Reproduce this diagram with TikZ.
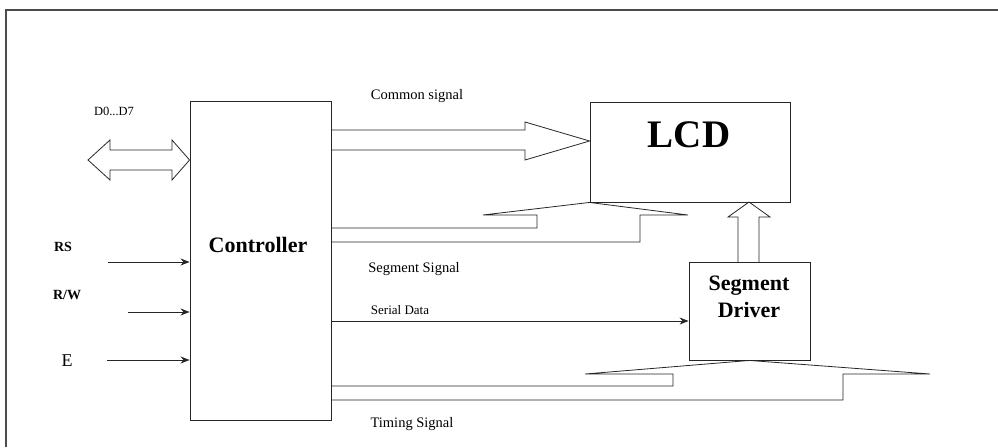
\documentclass[tikz,border=0pt]{standalone}
\usepackage{fontspec}
\setmainfont{Liberation Serif}
\usetikzlibrary{arrows.meta}
\begin{document}
\begin{tikzpicture}[x=1pt,y=-1pt,
  line/.style={draw=black!85, line width=0.8pt, line join=miter},
  box/.style={draw=black!85, line width=0.9pt, rectangle, inner sep=0pt},
  sig/.style={font=\fontsize{14.5}{16}\selectfont, inner sep=0pt},
  big/.style={font=\fontsize{22}{27}\selectfont\bfseries, inner sep=0pt, align=center},
  inlab/.style={font=\fontsize{14}{16}\selectfont\bfseries, inner sep=0pt},
  inarrow/.style={line, -{Stealth[length=9pt,width=7pt]}}]
\useasboundingbox (0,0) rectangle (998,447);
% frame
\draw[line width=1.3pt, black!70] (6,447) -- (6,10) -- (998,10);
% boxes
\node[box, minimum width=141pt, minimum height=319pt] (ctrl) at (260.5,260.5) {};
\node[big] (ctrlt) at (258,245) {Controller};
\node[box, minimum width=200pt, minimum height=100pt] (lcd) at (690,152) {};
\node[font=\fontsize{39}{40}\selectfont\bfseries, inner sep=0pt] (lcdt) at (689,135) {LCD};
\node[big] (sdt) at (749,297) {Segment\\Driver};
\node[box, minimum width=121pt, minimum height=98pt] (sd) at (749.5,311) {};
% labels
\node[sig, font=\fontsize{12.5}{14}\selectfont] (dlab) at (114,111) {D0...D7};
\node[sig] (csig) at (417,96) {Common signal};
\node[sig] (ssig) at (414,269) {Segment Signal};
\node[sig, font=\fontsize{13}{15}\selectfont] (sdat) at (400,310) {Serial Data};
\node[sig] (tsig) at (412,424) {Timing Signal};
\node[inlab] (rs) at (63,247) {RS};
\node[inlab] (rw) at (67,295) {R/W};
\node[font=\fontsize{18}{20}\selectfont, inner sep=0pt] (e) at (67,361) {E};
% data bus double arrow
\draw[line] (88,160) -- (110,140) -- (110,150) -- (172,150) -- (172,140) -- (ctrl.west |- 0,160)
  -- (172,180) -- (172,170) -- (110,170) -- (110,180) -- cycle;
% inputs
\coordinate (rsin) at (108,262);
\coordinate (rwin) at (128,312);
\coordinate (ein) at (107,360);
\draw[inarrow] (rsin) -- (ctrl.west |- rsin);
\draw[inarrow] (rwin) -- (ctrl.west |- rwin);
\draw[inarrow] (ein) -- (ctrl.west |- ein);
% common signal wide arrow
\draw[line] (ctrl.east |- 0,130) -- (525,130) -- (525,122) -- (lcd.west |- 0,141)
  -- (525,160) -- (525,150) -- (ctrl.east |- 0,150);
% segment signal
\draw[line] (ctrl.east |- 0,228) -- (537,228) -- (537,215) -- (483,215) -- (lcd.south west)
  -- (688,215) -- (640,215) -- (640,242) -- (ctrl.east |- 0,242);
% timing signal
\draw[line] (ctrl.east |- 0,386) -- (673,386) -- (673,374) -- (585,374) -- (sd.south)
  -- (930,374) -- (843,374) -- (843,400) -- (ctrl.east |- 0,400);
% segment driver to LCD
\draw[line] (738,262) -- (738,217) -- (728,217) -- (749,202) -- (770,217) -- (759,217) -- (759,262);
% serial data
\coordinate (serial) at (331,321);
\draw[inarrow] (serial) -- (sd.west |- serial);
\end{tikzpicture}
\end{document}
